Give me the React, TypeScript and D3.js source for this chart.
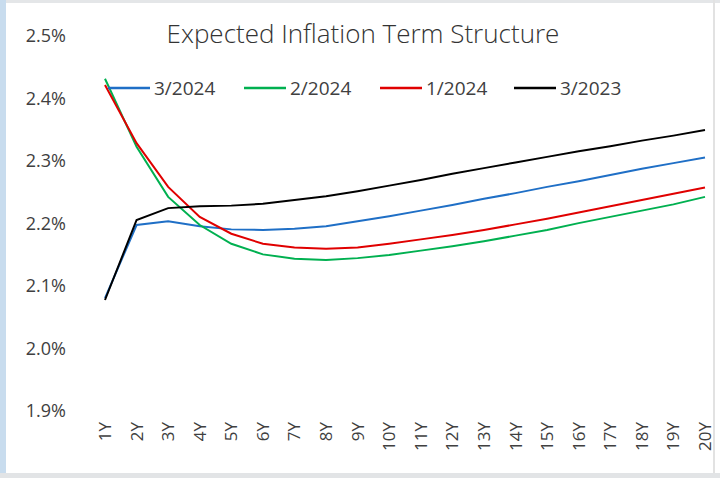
import React from 'react';
import * as d3 from 'd3';

const tenors = ['1Y', '2Y', '3Y', '4Y', '5Y', '6Y', '7Y', '8Y', '9Y', '10Y', '11Y', '12Y', '13Y', '14Y', '15Y', '16Y', '17Y', '18Y', '19Y', '20Y'];

const mar2024 = [2.079, 2.196, 2.202, 2.194, 2.189, 2.188, 2.190, 2.194, 2.202, 2.210, 2.219, 2.228, 2.238, 2.247, 2.257, 2.266, 2.276, 2.286, 2.295, 2.304];
const feb2024 = [2.430, 2.321, 2.241, 2.196, 2.166, 2.149, 2.142, 2.140, 2.143, 2.148, 2.155, 2.162, 2.170, 2.179, 2.188, 2.199, 2.209, 2.219, 2.229, 2.241];
const jan2024 = [2.420, 2.327, 2.257, 2.209, 2.182, 2.166, 2.160, 2.158, 2.160, 2.166, 2.173, 2.180, 2.188, 2.197, 2.206, 2.216, 2.226, 2.236, 2.246, 2.256];
const mar2023 = [2.076, 2.204, 2.223, 2.226, 2.227, 2.230, 2.236, 2.242, 2.250, 2.259, 2.268, 2.278, 2.287, 2.296, 2.305, 2.314, 2.322, 2.331, 2.339, 2.348];

const seriesNames = ['3/2024', '2/2024', '1/2024', '3/2023'];
const seriesColors = ['#1f6fc6', '#00b050', '#e00000', '#000000'];
const yTicks = [1.9, 2.0, 2.1, 2.2, 2.3, 2.4, 2.5];

const font = '"Open Sans", "Noto Sans", sans-serif';

export default function App() {
  const width = 720;
  const height = 478;
  const x = d3.scalePoint<string>().domain(tenors).range([105, 705]);
  const y = d3.scaleLinear().domain([1.9, 2.5]).range([410, 35]);

  const line = d3
    .line<number>()
    .x((_, i) => x(tenors[i]) as number)
    .y((d) => y(d));

  const all = [mar2024, feb2024, jan2024, mar2023];
  const legendX = [108, 244, 380, 514];

  return (
    <svg
      width={width}
      height={height}
      style={{ position: 'absolute', left: 0, top: 0, background: '#fff' }}
      fontFamily={font}>
      {/* frame */}
      <rect x={0} y={0} width={width} height={3} fill="#e4e6e8" />
      <rect x={0} y={0} width={6} height={height} fill="#c8dcee" />
      <rect x={713} y={0} width={2} height={474} fill="#e2e2e2" />
      <rect x={0} y={473} width={width} height={5} fill="#e2e4e6" />

      <text x={363} y={43} textAnchor="middle" fontSize={26} fill="#333" fontWeight={300}>
        Expected Inflation Term Structure
      </text>

      {yTicks.map((t) => (
        <text key={t} x={66} y={y(t) + 7} textAnchor="end" fontSize={18} fill="#404040">
          {d3.format('.1f')(t)}%
        </text>
      ))}

      {tenors.map((t) => (
        <text
          key={t}
          transform={`translate(${(x(t) as number) + 6},422) rotate(-90)`}
          textAnchor="end"
          fontSize={17}
          fill="#404040">
          {t}
        </text>
      ))}

      {all.map((s, i) => (
        <path key={i} d={line(s) || ''} fill="none" stroke={seriesColors[i]} strokeWidth={2} />
      ))}

      {seriesNames.map((n, i) => (
        <g key={n}>
          <line x1={legendX[i]} x2={legendX[i] + 42} y1={88} y2={88} stroke={seriesColors[i]} strokeWidth={2.5} />
          <text x={legendX[i] + 46} y={95} fontSize={19} fill="#404040">
            {n}
          </text>
        </g>
      ))}
    </svg>
  );
}
